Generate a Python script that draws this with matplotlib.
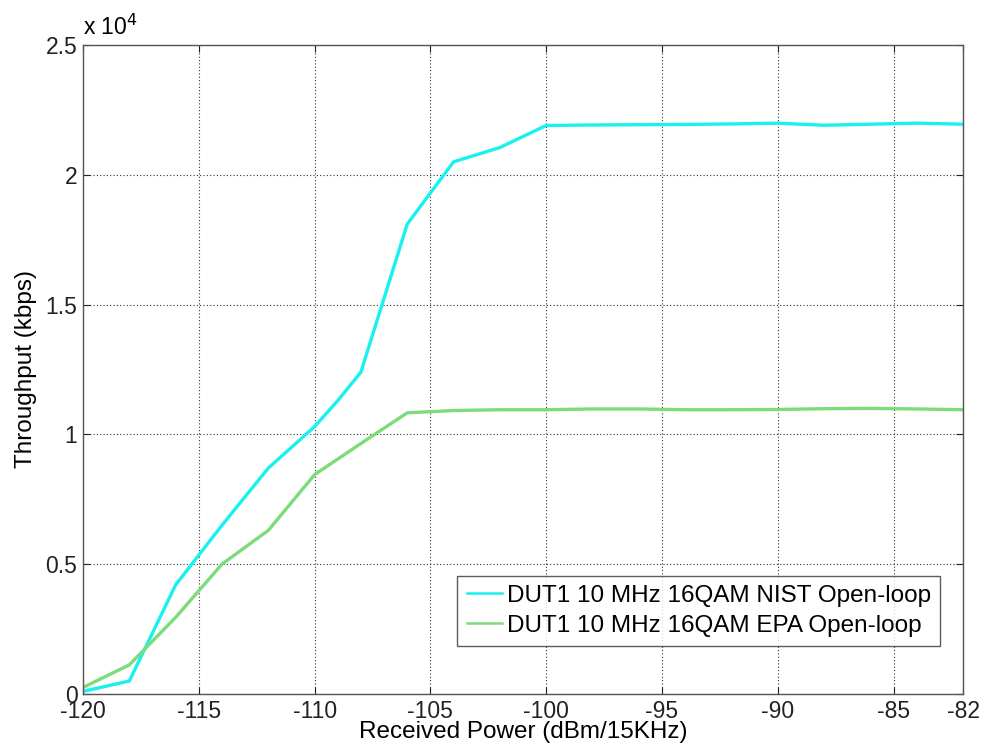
import matplotlib
matplotlib.use("Agg")
import matplotlib.pyplot as plt
from matplotlib.ticker import FuncFormatter

plt.rcParams['font.family'] = ['Liberation Sans', 'DejaVu Sans']
plt.rcParams['axes.unicode_minus'] = False

# received power (dBm/15KHz)
power = [-120, -118, -116, -114, -112, -110, -109, -108, -106, -104, -102, -100,
         -98, -96, -94, -92, -90, -88, -86, -84, -82]
# throughput (kbps)
nist = [100, 500, 4200, 6500, 8700, 10300, 11300, 12400, 18100, 20500, 21050, 21900,
        21920, 21930, 21940, 21960, 21990, 21910, 21950, 21990, 21950]
power_epa = [-120, -118, -116, -114, -112, -110, -108, -106, -104, -102, -100,
             -98, -96, -94, -92, -90, -88, -86, -84, -82]
epa = [250, 1120, 2950, 5000, 6300, 8450, 9650, 10830, 10920, 10950, 10950,
       10980, 10980, 10950, 10950, 10960, 10990, 11000, 10980, 10950]

xticks = [-120, -115, -110, -105, -100, -95, -90, -85, -82]
yticks = [0, 5000, 10000, 15000, 20000, 25000]

fig = plt.figure(figsize=(9.81, 7.53), dpi=100)
ax = fig.add_axes([0.0846, 0.0784, 0.8971, 0.8618])

ax.plot(power, nist, color='#19f0f0', linewidth=2.4,
        label='DUT1 10 MHz 16QAM NIST Open-loop')
ax.plot(power_epa, epa, color='#7cdc7c', linewidth=2.4,
        label='DUT1 10 MHz 16QAM EPA Open-loop')

ax.set_xlim(-120, -82)
ax.set_ylim(0, 25000)
ax.set_xticks(xticks)
ax.set_yticks(yticks)
ax.yaxis.set_major_formatter(FuncFormatter(lambda v, p: '%g' % (v / 1e4)))

ax.grid(True, color='#333333', linestyle=(0, (1, 2)), linewidth=0.8)
ax.tick_params(direction='in', length=5, width=0.8, top=True, right=True,
               labelsize=16.5, pad=4, colors='#222222')
for s in ax.spines.values():
    s.set_color('#555555')
    s.set_linewidth(1.0)

ax.set_xlabel('Received Power (dBm/15KHz)', fontsize=17.5, labelpad=-1)
ax.set_ylabel('Throughput (kbps)', fontsize=17.5, labelpad=6)
ax.text(0.0, 1.008, r'x 10$^{4}$', transform=ax.transAxes, fontsize=16.5,
        ha='left', va='bottom')

leg = ax.legend(loc='lower right', bbox_to_anchor=(0.974, 0.074), fontsize=17.5,
                frameon=True, fancybox=False, borderpad=0.38, labelspacing=0.32,
                handlelength=1.45, handletextpad=0.2, borderaxespad=0)
leg.get_frame().set_edgecolor('#333333')
leg.get_frame().set_linewidth(1.0)
for h in leg.legend_handles:
    h.set_linewidth(1.8)

fig.savefig('out.png', dpi=100)
